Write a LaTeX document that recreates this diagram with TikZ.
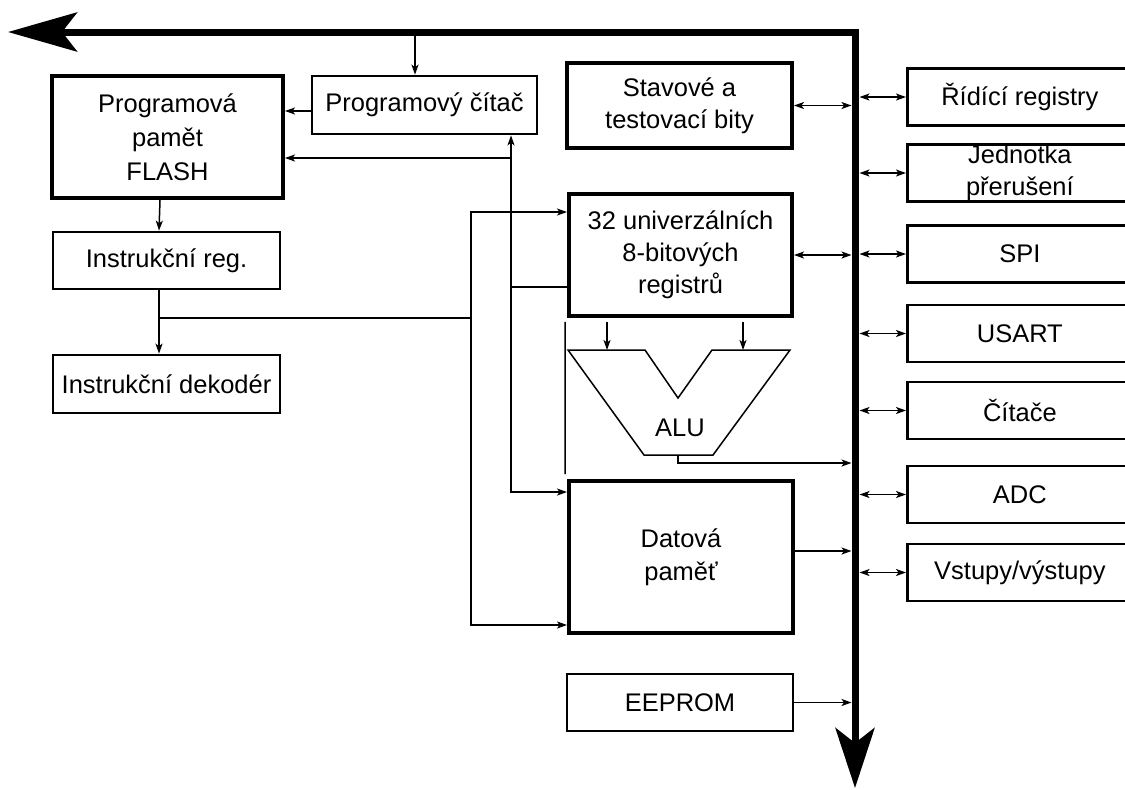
\documentclass[tikz,border=0pt]{standalone}
\usepackage{fontspec}
\setmainfont{Liberation Sans}
\usetikzlibrary{arrows.meta,positioning,calc}

\begin{document}
\begin{tikzpicture}[x=0.02cm, y=-0.02cm,
  blok/.style={draw, line width=0.055cm, align=center, inner sep=0pt, font=\fontsize{14.5}{18.2}\selectfont},
  tlusty/.style={blok, line width=0.08cm},
  perif/.style={blok, minimum width=4.5cm, minimum height=1.14cm, anchor=west},
  spoj/.style={line width=0.03cm},
  sip/.style={spoj, -{Stealth[length=0.2cm, width=0.14cm, inset=0.05cm]}},
  obousip/.style={spoj, {Stealth[length=0.2cm, width=0.14cm, inset=0.05cm]}-{Stealth[length=0.2cm, width=0.14cm, inset=0.05cm]}},
  kbus/.style={shorten >=0.07cm},
  sbernice/.style={line width=0.14cm, {Stealth[length=1.38cm, width=0.78cm, inset=0.3cm]}-{Stealth[length=1.2cm, width=0.78cm, inset=0.3cm]}}
]
\useasboundingbox (0,0) rectangle (1125,789);
\clip (0,0) rectangle (1125,789);

% bloky jadra
\node [tlusty, minimum width=4.62cm, minimum height=2.44cm, font=\fontsize{14.5}{19.3}\selectfont] (flash) at (167.5,137) {Programová\\pamět\\FLASH};
\node [blok, minimum width=4.5cm, minimum height=1.16cm] (pc) at (424.5,105) {Programový čítač};
\node [tlusty, minimum width=4.5cm, minimum height=1.7cm] (stav) at (679.5,105.5) {Stavové a\\testovací bity};
\node [blok, minimum width=4.54cm, minimum height=1.14cm] (ireg) at (166.5,260.5) {Instrukční reg.};
\node [blok, minimum width=4.54cm, minimum height=1.16cm] (idec) at (166.5,384) {Instrukční dekodér};
\node [tlusty, minimum width=4.46cm, minimum height=2.44cm] (regs) at (680.5,255) {32 univerzálních\\8-bitových\\registrů};
\node [tlusty, minimum width=4.48cm, minimum height=3.04cm, font=\fontsize{14.5}{18.8}\selectfont] (dmem) at (681,557) {Datová\\paměť};
\node [blok, minimum width=4.52cm, minimum height=1.14cm] (eeprom) at (680,702.5) {EEPROM};

% periferie
\node [perif] (rid) at (906,97) {Řídící registry};
\node [perif] (jed) at (906,173) {Jednotka\\přerušení};
\node [perif] (spi) at (906,254) {SPI};
\node [perif] (usart) at (906,333.5) {USART};
\node [perif] (cit) at (906,410.5) {Čítače};
\node [perif] (adc) at (906,494.5) {ADC};
\node [perif] (vv) at (906,572.5) {Vstupy/výstupy};

% ALU
\coordinate (aluL) at (607,350);
\coordinate (aluR) at (743,350);
\coordinate (aluO) at (678,455);
\draw [line width=0.03cm, line join=miter] (568,350) -- (645,350) -- (678,398) -- (712,350) -- (790,350) -- (713,455) -- (644,455) -- cycle;
\node [font=\fontsize{14.5}{18.2}\selectfont] (alu) at (680,428) {ALU};

% sbernice
\coordinate (busL) at (8,32);
\coordinate (busC) at (855,32);
\coordinate (busB) at (855,788);

% spoje
\coordinate (pcvstup) at ([xshift=-0.19cm]pc.north);
\draw [sip] (pcvstup |- busC) -- (pcvstup);
\draw [sip] ([yshift=-0.12cm]pc.west) -- ([yshift=-0.12cm]pc.west -| flash.east);
\coordinate (jpc) at (511,158);
\draw [sip] (jpc) -- (jpc -| flash.east);
\draw [sip] (jpc) -- (jpc |- pc.south);
\draw [sip] (jpc) |- ($(dmem.north west)+(0,13)$);
\draw [spoj] ($(regs.west)+(0,32)$) -| (jpc);
\draw [sip] ([xshift=-0.15cm]flash.south) -- ([xshift=-0.15cm]ireg.north);
\draw [sip] ([xshift=-0.15cm]ireg.south) -- ([xshift=-0.15cm]idec.north);
\coordinate (jir) at (471,318);
\draw [spoj] ([xshift=-0.15cm]ireg.south |- jir) -- (jir);
\draw [sip] (jir) |- ($(regs.north west)+(0,20)$);
\draw [sip] (jir) |- ($(dmem.south west)+(0,-10)$);
\draw [spoj] ($(regs.south west)+(-2,4)$) -- ($(dmem.north west)+(-2,-5)$);
\draw [sip] ($(regs.south -| aluL)+(0,4)$) -- (aluL);
\draw [sip] ($(regs.south -| aluR)+(0,4)$) -- (aluR);
\coordinate (aluV) at ($(aluO)+(0,8)$);
\draw [sip, kbus] (aluO) -- (aluV) -- (aluV -| busC);
\draw [sip, kbus] ([yshift=0.12cm]dmem.east) -- ([yshift=0.12cm]dmem.east -| busC);
\draw [sip, kbus] (eeprom.east) -- (eeprom.east -| busC);
\draw [obousip, kbus] (stav.east) -- (stav.east -| busC);
\draw [obousip, kbus] (regs.east) -- (regs.east -| busC);
\foreach \p in {rid,jed,spi,usart,cit,adc,vv}
  \draw [obousip, shorten <=0.09cm] (\p.west -| busC) -- (\p.west);

\draw [sbernice] (busL) -- (busC) -- (busB);
\end{tikzpicture}
\end{document}
